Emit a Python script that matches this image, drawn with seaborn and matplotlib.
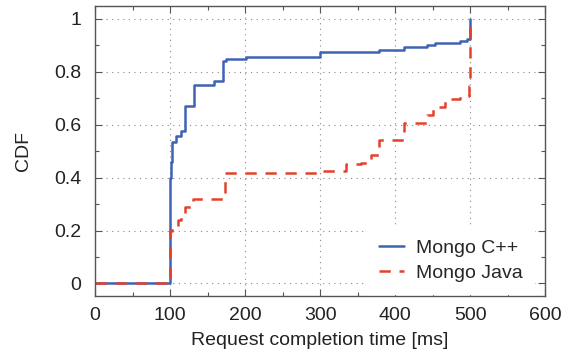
import numpy as np
import pandas as pd
import seaborn as sns
from matplotlib import pyplot as plt
from matplotlib.ticker import MultipleLocator, FormatStrFormatter

sns.set_theme(style='ticks')
plt.rcParams['font.family'] = ['Liberation Sans', 'DejaVu Sans']

# step points (x in ms, y = CDF)
cpp_x = [0, 100, 101, 103, 108, 114, 120, 132, 159, 170, 175, 201, 300, 379,
         412, 442, 453, 486, 496, 500, 500]
cpp_y = [0, 0.40, 0.46, 0.533, 0.558, 0.577, 0.671, 0.749, 0.765, 0.842,
         0.849, 0.857, 0.874, 0.883, 0.894, 0.901, 0.910, 0.916, 0.924, 1.0, 1.0]

java_x = [0, 100, 103, 110, 115, 120, 131, 173, 299, 335, 355, 368, 378, 412,
          442, 451, 466, 486, 499, 500, 500]
java_y = [0, 0.20, 0.215, 0.24, 0.252, 0.288, 0.319, 0.417, 0.426, 0.451,
          0.454, 0.485, 0.542, 0.605, 0.637, 0.668, 0.697, 0.71, 0.746, 1.0, 1.0]

labels = ['Mongo C++', 'Mongo Java']

cpp = pd.DataFrame({'t': cpp_x, 'cdf': cpp_y})
java = pd.DataFrame({'t': java_x, 'cdf': java_y})

fig = plt.figure(figsize=(5.66, 3.56), dpi=100)
ax = fig.add_axes([0.168, 0.169, 0.795, 0.815])

sns.lineplot(data=cpp, x='t', y='cdf', ax=ax, estimator=None, sort=False,
             drawstyle='steps-post', color='#3e62b4', lw=1.8, label=labels[0])
sns.lineplot(data=java, x='t', y='cdf', ax=ax, estimator=None, sort=False,
             drawstyle='steps-post', color='#e4412b', lw=1.8, label=labels[1],
             dashes=False, linestyle=(0, (4.5, 3.5)))

ax.set_xlim(0, 600)
ax.set_ylim(-0.047, 1.05)
ax.xaxis.set_major_locator(MultipleLocator(100))
ax.xaxis.set_minor_locator(MultipleLocator(50))
ax.yaxis.set_major_locator(MultipleLocator(0.2))
ax.yaxis.set_minor_locator(MultipleLocator(0.1))
ax.yaxis.set_major_formatter(FormatStrFormatter('%g'))

ax.tick_params(which='both', direction='in', top=True, right=True,
               color='#555555', labelsize=14, labelcolor='#222222')
ax.tick_params(which='major', length=5, width=0.8)
ax.tick_params(axis='x', which='major', pad=8)
ax.tick_params(axis='y', which='major', pad=10)
ax.tick_params(which='minor', length=3, width=0.8)
for s in ax.spines.values():
    s.set_color('#555555')
    s.set_linewidth(1.0)

ax.grid(True, which='major', color='#888888', linestyle=(0, (1, 4)), lw=0.8)
ax.set_axisbelow(True)

ax.set_xlabel('Request completion time [ms]', fontsize=14, color='#222222', labelpad=6)
ax.set_ylabel('CDF', fontsize=14, color='#222222', labelpad=16)

leg = ax.legend(loc='lower right', bbox_to_anchor=(0.98, 0.0), frameon=True,
                fontsize=14, handlelength=1.3, borderaxespad=0.3,
                labelspacing=0.4, handletextpad=0.6)
leg.get_frame().set_edgecolor('white')
leg.get_frame().set_facecolor('white')
leg.get_frame().set_alpha(1)
leg.get_frame().set_boxstyle('square', pad=0.2)

fig.savefig('out.png', dpi=100)
